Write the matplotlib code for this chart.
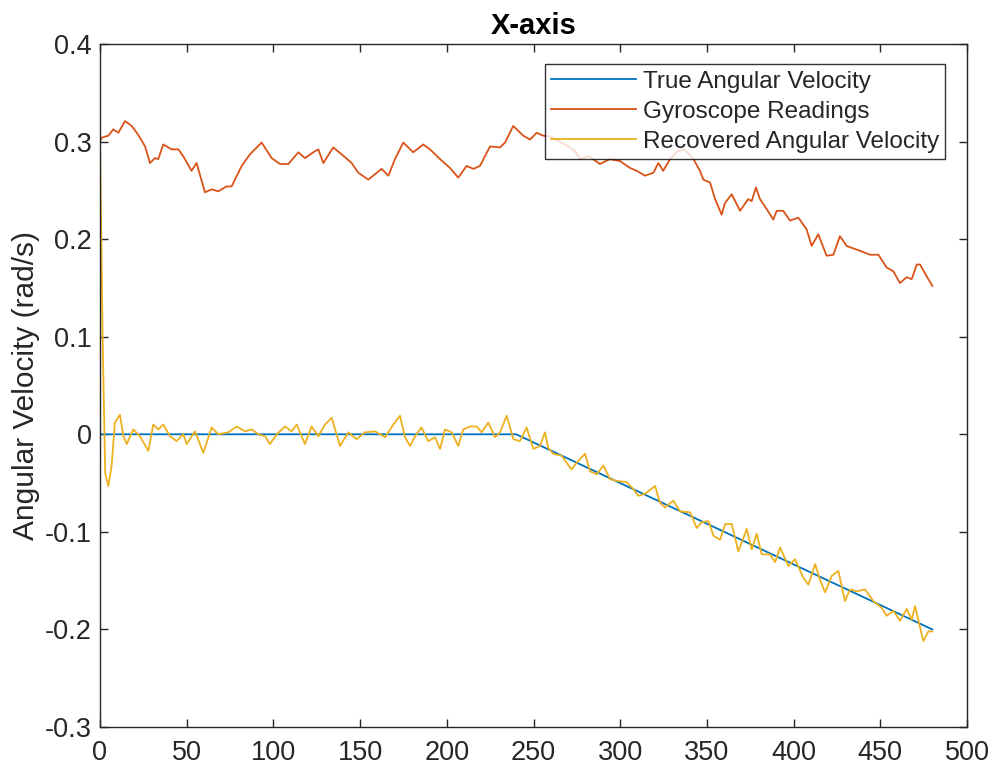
# X-axis angular velocity: true vs gyroscope vs recovered (MATLAB-style look)

import matplotlib
matplotlib.use('Agg')
import matplotlib.pyplot as plt

plt.rcParams['font.family'] = ['Liberation Sans', 'DejaVu Sans']

# %% data

true_t = [0, 240, 480]
true_v = [0.0, 0.0, -0.2]

gyro_t = [0, 1, 4.8, 7.7, 10.6, 14.4, 18.3, 22, 26, 28.8, 31.7, 33.6, 36.5, 41.3,
          45.2, 48, 52.8, 55.7, 60.5, 64.4, 68.2, 73, 75.9, 81.7, 86.5, 93.2, 99,
          103.8, 108.6, 114.4, 118.2, 123, 125.9, 128.8, 134.5, 139.3, 145.1, 149,
          154.7, 162.4, 166.3, 170.1, 174.9, 180.6, 186.4, 190.3, 196.1, 201.8,
          206.6, 211.4, 215.3, 219.1, 224.9, 230.7, 233.6, 238.3, 244.1, 248, 251.8,
          255.6, 260, 265, 270, 274, 276.8, 282, 288.3, 294, 299.9, 305.6, 309.5,
          314.3, 319.1, 322, 324.8, 328.7, 333, 337, 342.2, 346, 347.9, 351.8, 354.7,
          358.5, 360.4, 364.3, 369.1, 373.8, 375.8, 378.3, 380.6, 384.4, 388.3,
          390.2, 394, 397.9, 402.7, 407.5, 410.4, 414.2, 419, 422.9, 426.7, 430.6,
          438.3, 444.1, 448.9, 453.6, 457.5, 461.3, 465.2, 468.1, 471, 472.9, 476.7,
          480]
gyro_v = [0.300, 0.304, 0.306, 0.3125, 0.309, 0.321, 0.316, 0.307, 0.295, 0.278,
          0.283, 0.282, 0.297, 0.292, 0.292, 0.285, 0.270, 0.278, 0.248, 0.251,
          0.249, 0.254, 0.254, 0.275, 0.287, 0.299, 0.283, 0.277, 0.277, 0.289,
          0.283, 0.289, 0.292, 0.278, 0.294, 0.287, 0.278, 0.268, 0.261, 0.272,
          0.265, 0.282, 0.299, 0.289, 0.297, 0.292, 0.282, 0.273, 0.263, 0.275,
          0.272, 0.275, 0.295, 0.294, 0.299, 0.316, 0.306, 0.302, 0.309, 0.306,
          0.305, 0.300, 0.295, 0.290, 0.282, 0.285, 0.277, 0.282, 0.280, 0.273,
          0.270, 0.265, 0.268, 0.278, 0.270, 0.282, 0.290, 0.292, 0.282, 0.270,
          0.261, 0.258, 0.241, 0.225, 0.237, 0.246, 0.229, 0.241, 0.239, 0.253,
          0.241, 0.231, 0.220, 0.229, 0.229, 0.219, 0.222, 0.210, 0.193, 0.205,
          0.183, 0.184, 0.203, 0.193, 0.188, 0.184, 0.184, 0.171, 0.167, 0.155,
          0.161, 0.159, 0.174, 0.174, 0.162, 0.152]

rec_t = [0, 1.5, 3, 4.8, 6.7, 8.6, 11.5, 13.5, 15.4, 19.2, 23, 27.9, 30.7, 33.6,
         36.5, 40.4, 44.2, 48, 50, 54.8, 59.6, 64.4, 68.2, 74, 78.8, 83.6, 87.5,
         91.3, 95.2, 98, 101.9, 106.7, 110.5, 113.4, 118.2, 122, 125.9, 129.8, 133.6,
         138.4, 143.2, 148, 152.8, 158.6, 164.4, 169.2, 173, 175.9, 178.8, 181.7,
         185.4, 189.3, 193.2, 196.1, 199, 202.8, 206.6, 209.5, 213.4, 217.2, 220.1,
         223.9, 227.8, 230.7, 234.5, 238.4, 242.2, 246, 249.9, 253.7, 256.6, 258.5,
         261.4, 266.2, 271.9, 274.9, 279.7, 282.6, 286.4, 290.3, 294.1, 298.9, 303.7,
         307.5, 310.4, 314.3, 320.1, 322.9, 325.8, 330.6, 334.5, 340.3, 344.1, 347,
         350.9, 353.8, 357.6, 360.5, 364.3, 368.1, 373, 375.8, 378.7, 381.6, 386.4,
         389.3, 392.2, 397, 400.8, 405.6, 408.5, 412.4, 415.2, 418.1, 422, 425.8,
         429.6, 432.5, 436.4, 441.2, 446, 450.8, 453.6, 457.5, 461.3, 465.2, 468.1,
         470, 474.8, 477.7, 480]
rec_v = [0.300, 0.100, -0.040, -0.053, -0.032, 0.012, 0.020, -0.002, -0.010, 0.005,
         -0.002, -0.017, 0.010, 0.005, 0.010, -0.002, -0.007, 0.000, -0.010, 0.003,
         -0.019, 0.007, 0.000, 0.002, 0.008, 0.003, 0.005, 0.000, -0.002, -0.010,
         0.000, 0.008, 0.003, 0.010, -0.010, 0.008, -0.002, 0.010, 0.017, -0.012,
         0.002, -0.005, 0.002, 0.003, -0.003, 0.010, 0.019, -0.003, -0.012, -0.002,
         0.007, -0.007, -0.003, -0.015, 0.005, 0.002, -0.012, 0.005, 0.008, 0.008,
         0.002, 0.012, -0.003, 0.002, 0.019, -0.005, -0.007, 0.007, -0.015, -0.012,
         0.002, -0.014, -0.020, -0.022, -0.036, -0.029, -0.020, -0.038, -0.041,
         -0.032, -0.046, -0.048, -0.049, -0.056, -0.063, -0.061, -0.053, -0.070,
         -0.075, -0.068, -0.079, -0.080, -0.096, -0.090, -0.089, -0.104, -0.108,
         -0.092, -0.092, -0.120, -0.097, -0.118, -0.102, -0.123, -0.123, -0.131,
         -0.116, -0.135, -0.128, -0.147, -0.154, -0.133, -0.149, -0.162, -0.145,
         -0.140, -0.171, -0.159, -0.161, -0.159, -0.171, -0.178, -0.186, -0.181,
         -0.191, -0.179, -0.190, -0.176, -0.212, -0.202, -0.202]

labels = ['True Angular Velocity', 'Gyroscope Readings', 'Recovered Angular Velocity']

# %% plot

axis_gray = '#262626'
fig = plt.figure(figsize=(9.95, 7.7), dpi=100)
ax = fig.add_axes((0.1005, 0.0558, 0.8714, 0.8871))

ax.plot(true_t, true_v, color='#0072BD', linewidth=1.3, label=labels[0])
ax.plot(gyro_t, gyro_v, color='#D95319', linewidth=1.3, label=labels[1])
ax.plot(rec_t, rec_v, color='#EDB120', linewidth=1.3, label=labels[2])

ax.set_xlim(0, 500)
ax.set_ylim(-0.3, 0.4)
ax.set_xticks(range(0, 501, 50))
ax.set_yticks([-0.3, -0.2, -0.1, 0, 0.1, 0.2, 0.3, 0.4])
ax.set_yticklabels(['-0.3', '-0.2', '-0.1', '0', '0.1', '0.2', '0.3', '0.4'])

ax.tick_params(direction='in', length=6, width=1, colors=axis_gray,
               labelsize=19.5, top=True, right=True)
ax.tick_params(axis='x', pad=9)
ax.tick_params(axis='y', pad=6)
for s in ax.spines.values():
    s.set_color(axis_gray)
    s.set_linewidth(1.0)

ax.set_ylabel('Angular Velocity (rad/s)', fontsize=21.5, color=axis_gray, labelpad=3)
ax.set_title('X-axis', fontsize=21, fontweight='bold', color='black', pad=7)

leg = ax.legend(loc='upper right', bbox_to_anchor=(0.975, 0.97), borderaxespad=0,
                fontsize=17.5, frameon=True, fancybox=False, edgecolor='black',
                handlelength=3.5, handletextpad=0.3, labelspacing=0.33,
                borderpad=0.25)
leg.get_frame().set_linewidth(1.0)
for t in leg.get_texts():
    t.set_color(axis_gray)

plt.savefig('out.png')
